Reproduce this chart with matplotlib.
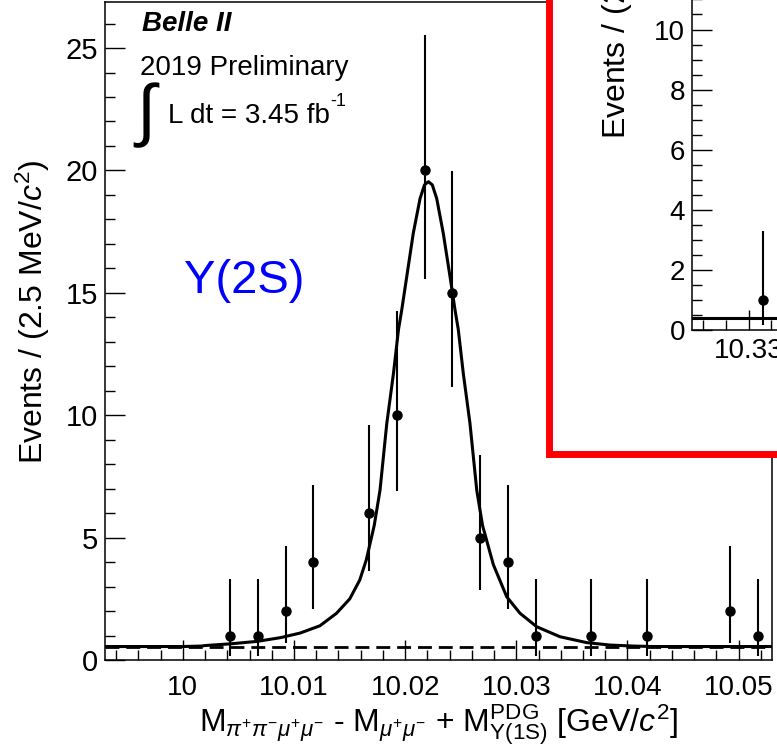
import matplotlib
matplotlib.use('Agg')
import matplotlib.pyplot as plt
from matplotlib.patches import Rectangle
from matplotlib.ticker import MultipleLocator, FuncFormatter

plt.rcParams['font.family'] = ['Liberation Sans', 'DejaVu Sans']
plt.rcParams['mathtext.fontset'] = 'custom'
plt.rcParams['mathtext.rm'] = 'Liberation Sans'
plt.rcParams['mathtext.it'] = 'Liberation Sans:italic'
plt.rcParams['mathtext.bf'] = 'Liberation Sans:bold'

# binned data (2.5 MeV bins), only non-empty bins are drawn
bin_centers = [10.00425, 10.00675, 10.00925, 10.01175, 10.01675, 10.01925, 10.02175,
               10.02425, 10.02675, 10.02925, 10.03175, 10.03675, 10.04175, 10.04925, 10.05175]
counts = [1, 1, 2, 4, 6, 10, 20, 15, 5, 4, 1, 1, 1, 2, 1]
err_low = [0.83, 0.83, 1.29, 1.91, 2.38, 3.11, 4.44, 3.83, 2.16, 1.91, 0.83, 0.83, 0.83, 1.29, 0.83]
err_high = [2.30, 2.30, 2.64, 3.16, 3.58, 4.26, 5.55, 4.97, 3.38, 3.16, 2.30, 2.30, 2.30, 2.64, 2.30]

# fit curve
fit_x = [9.993, 10.0, 10.00169, 10.00199, 10.00428, 10.00667, 10.00875, 10.01055, 10.01234,
         10.01383, 10.01502, 10.01592, 10.01651, 10.01722, 10.01774, 10.01835, 10.01895,
         10.01940, 10.01969, 10.02014, 10.02073, 10.02134, 10.02174, 10.02209, 10.02244,
         10.02284, 10.02343, 10.02404, 10.02449, 10.02478, 10.02523, 10.02583, 10.02644,
         10.02696, 10.02793, 10.02914, 10.03033, 10.03183, 10.03393, 10.03633, 10.03843,
         10.04052, 10.04232, 10.053]
fit_y = [0.55, 0.55, 0.57, 0.59, 0.66, 0.76, 0.91, 1.10, 1.40,
         1.91, 2.50, 3.27, 4.1, 5.5, 6.94, 9.67, 11.71,
         13.5, 14.29, 15.65, 17.43, 18.85, 19.41, 19.54, 19.41,
         18.85, 17.43, 15.65, 14.29, 13.5, 11.71, 9.67, 6.94,
         5.5, 3.9, 2.58, 1.91, 1.36, 0.95, 0.71, 0.61,
         0.57, 0.55, 0.55]
bkg_level = 0.55

# inset (Y(3S) region), partly visible
inset_x = [10.33125]
inset_counts = [1]
inset_err_low = [0.83]
inset_err_high = [2.30]
inset_fit_level = 0.4

W, H = 777, 753
fig = plt.figure(figsize=(W / 100, H / 100), dpi=100)


def fx(px):
    return px / W


def fy(py):
    return 1 - py / H


def tick_fmt(v, pos):
    return f'{round(v, 4):g}'


ax = fig.add_axes([fx(105), fy(660), (772 - 105) / W, (660 - 2) / H])
ax.set_xlim(9.993, 10.053)
ax.set_ylim(0, 26.88)

ax.plot([9.993, 10.053], [bkg_level, bkg_level], color='black', lw=2.0,
        ls=(0, (5, 2.5)), zorder=2)
ax.plot(fit_x, fit_y, color='black', lw=2.2, zorder=2.5)
ax.errorbar(bin_centers, counts, yerr=[err_low, err_high], fmt='o', color='black',
            ms=6.5, elinewidth=1.5, capsize=0, zorder=3)

ax.xaxis.set_major_locator(MultipleLocator(0.01))
ax.xaxis.set_minor_locator(MultipleLocator(0.002))
ax.xaxis.set_major_formatter(FuncFormatter(tick_fmt))
ax.yaxis.set_major_locator(MultipleLocator(5))
ax.yaxis.set_minor_locator(MultipleLocator(1))
ax.tick_params(which='both', direction='in', top=False, right=False, labelsize=20, width=1)
ax.tick_params(which='major', length=14.4)
ax.tick_params(which='minor', length=7.2)
ax.tick_params(axis='y', pad=5, labelsize=21)
ax.tick_params(axis='x', pad=11)
for s in ax.spines.values():
    s.set_linewidth(1.1)

ax.set_ylabel(r'Events / (2.5 MeV/$c^{2}$)', fontsize=23)
ax.yaxis.set_label_coords(-0.0795, 0.529)
ax.set_xlabel(r'$\mathrm{M}_{\pi^{+}\pi^{-}\mu^{+}\mu^{-}}$ - $\mathrm{M}_{\mu^{+}\mu^{-}}$'
              r' + $\mathrm{M}^{\mathrm{PDG}}_{\mathrm{\Upsilon(1S)}}$ [GeV/$c^{2}$]', fontsize=23)
ax.xaxis.set_label_coords(0.5, -0.064)

fig.text(fx(142), fy(31), 'Belle II', fontsize=20, fontweight='bold', fontstyle='italic',
         va='baseline')
fig.text(fx(140), fy(75), '2019 Preliminary', fontsize=20, va='baseline')
fig.text(fx(136), fy(133), '\u222b', fontsize=50, va='baseline')
fig.text(fx(168), fy(123), 'L dt = 3.45 fb', fontsize=20, va='baseline')
fig.text(fx(330), fy(106), '-1', fontsize=13, va='baseline')
fig.text(fx(184), fy(293), 'Y(2S)', color='#0000ff', fontsize=34, va='baseline')

# red frame of the inset
frame = Rectangle((fx(549), fy(454)), 600 / W, 800 / H, transform=fig.transFigure,
                  facecolor='white', edgecolor='#ff0000', lw=5.0, zorder=5,
                  joinstyle='miter')
fig.add_artist(frame)

ax_in = fig.add_axes([fx(692), fy(330), (1090 - 692) / W, (330 + 31) / H], zorder=10)
ax_in.patch.set_alpha(0)
ax_in.set_xlim(10.325, 10.325 + 398 / 11300)
ax_in.set_ylim(0, 361 / 30.05)
ax_in.plot([10.325, 10.325 + 398 / 11300], [inset_fit_level, inset_fit_level],
           color='black', lw=2.2)
ax_in.errorbar(inset_x, inset_counts, yerr=[inset_err_low, inset_err_high], fmt='o',
               color='black', ms=6.5, elinewidth=1.5, capsize=0, zorder=3)
ax_in.xaxis.set_major_locator(MultipleLocator(0.01))
ax_in.xaxis.set_minor_locator(MultipleLocator(0.002))
ax_in.xaxis.set_major_formatter(FuncFormatter(tick_fmt))
ax_in.yaxis.set_major_locator(MultipleLocator(2))
ax_in.yaxis.set_minor_locator(MultipleLocator(0.5))
ax_in.tick_params(which='both', direction='in', top=False, right=False, labelsize=20, width=1)
ax_in.tick_params(which='major', length=14.4)
ax_in.tick_params(which='minor', length=7.2)
ax_in.tick_params(axis='y', pad=5)
ax_in.tick_params(axis='x', pad=6)
for s in ax_in.spines.values():
    s.set_linewidth(1.1)
ax_in.set_ylabel(r'Events / (2.5 MeV/$c^{2}$)', fontsize=23)
ax_in.yaxis.set_label_coords(-0.142, 0.95)

fig.savefig('out.png', dpi=100)
